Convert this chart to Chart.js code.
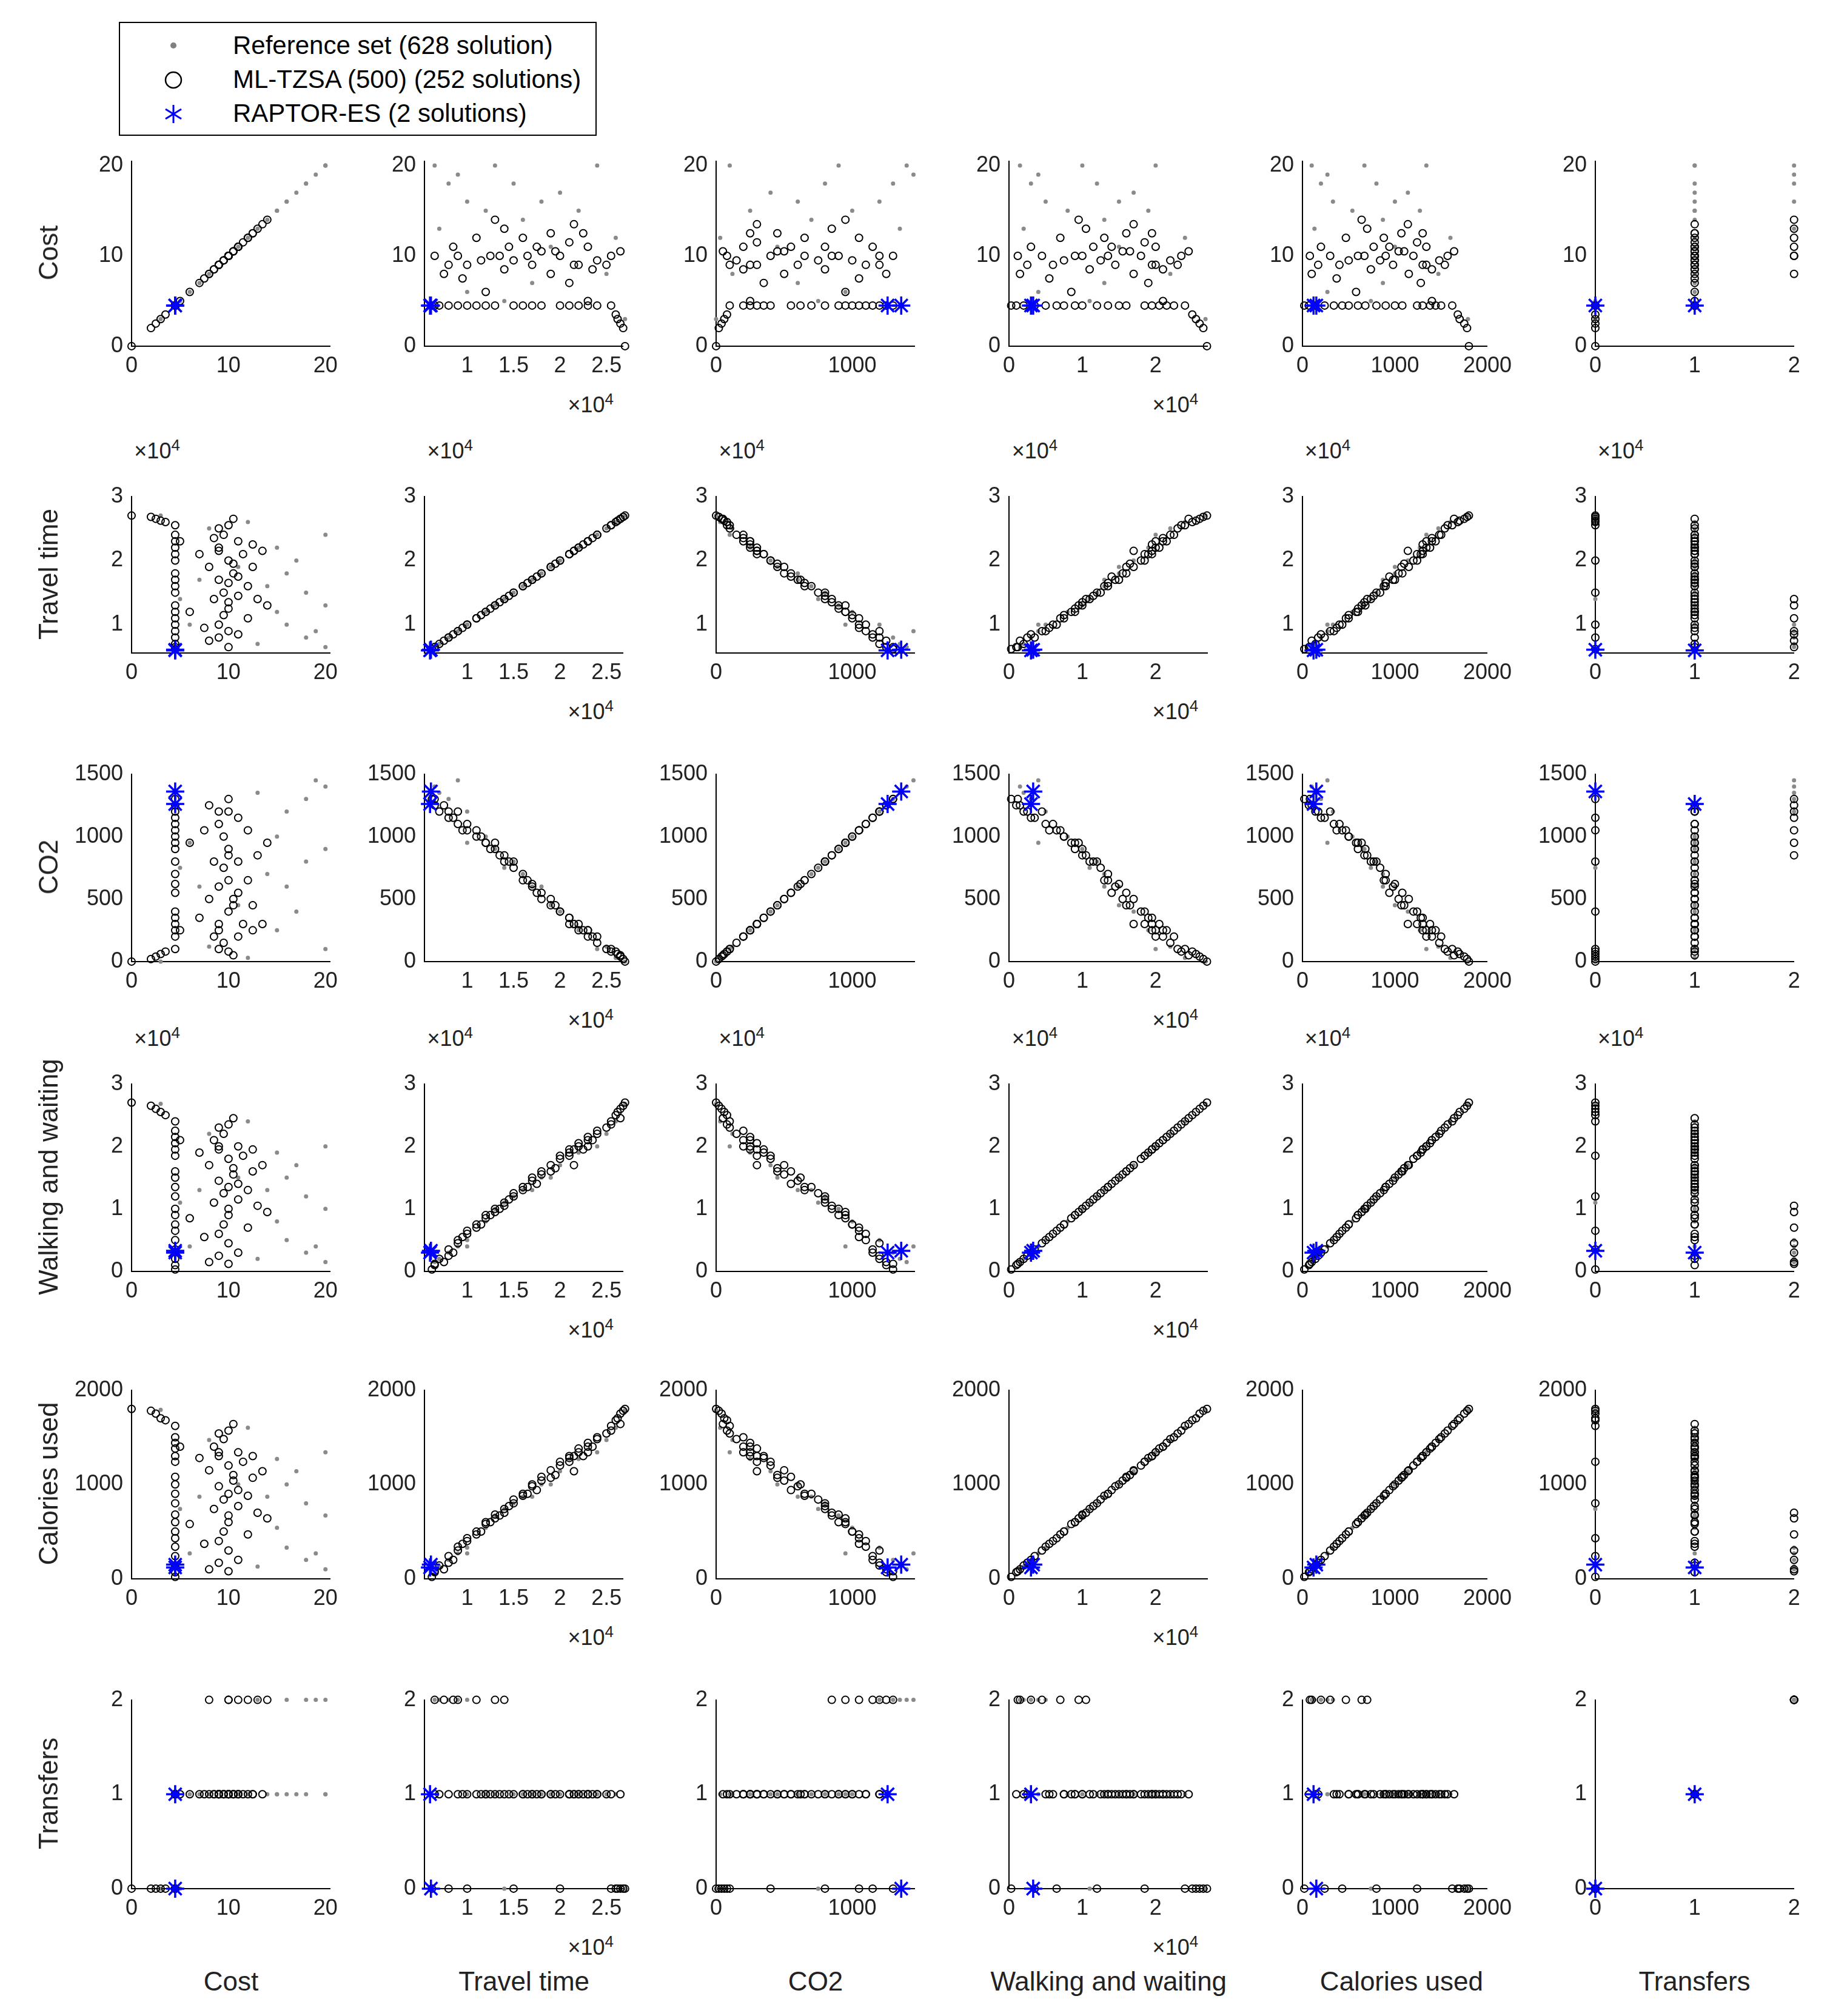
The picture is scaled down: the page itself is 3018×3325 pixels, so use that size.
<!DOCTYPE html>
<html lang="en">
<head>
<meta charset="UTF-8" />
<title>Scatter matrix</title>
<script src="https://cdn.jsdelivr.net/npm/chart.js"></script>
<style>
  body { margin:0; width:3018px; height:3325px; background:#fff; position:relative; font-family:Arial,'Liberation Sans',sans-serif; overflow:hidden; }
  canvas { position:absolute; }
  .lbl { position:absolute; font-size:44px; color:#222; white-space:nowrap; }
  .exp { position:absolute; font-size:36px; color:#222; white-space:nowrap; }
  .exp sup { font-size:26px; }
  #legend { position:absolute; left:196px; top:36px; width:784px; height:184px; border:2px solid #000; background:#fff; font-size:42px; }
  #legend div { position:absolute; left:0; height:54px; line-height:54px; }
  #legend span.t { position:absolute; left:186px; }
</style>
</head>
<body>
<div id="legend">
  <div style="top:10px;width:784px"><svg style="position:absolute;left:78px;top:17px" width="20" height="20"><circle cx="10" cy="10" r="5" fill="#808080"/></svg><span class="t">Reference set (628 solution)</span></div>
  <div style="top:66px;width:784px"><svg style="position:absolute;left:70px;top:10px" width="36" height="36"><circle cx="18" cy="18" r="13" fill="none" stroke="#000" stroke-width="2.5"/></svg><span class="t">ML-TZSA (500) (252 solutions)</span></div>
  <div style="top:122px;width:784px"><svg style="position:absolute;left:70px;top:10px" width="36" height="36"><g stroke="#0000ff" stroke-width="3"><line x1="18" y1="3" x2="18" y2="33"/><line x1="5" y1="10" x2="31" y2="26"/><line x1="5" y1="26" x2="31" y2="10"/></g></svg><span class="t">RAPTOR-ES (2 solutions)</span></div>
</div>
<script>
// Reference set (grey dots)
const refCost = [20,18,16,15,14,17,20,12,19,13,16,11,6,5,7,18,20,15,8,3];
const refTravel = [6500,8000,10000,12000,16000,20000,24000,26000,9000,7000,18000,19000,10000,14000,17000,15000,13000,22000,25000,27000];
const refCO2 = [1400,1300,1200,1000,700,400,100,30,1450,1350,600,450,950,750,600,800,900,250,120,0];
const refWalk = [1500,3000,5000,8000,13000,17000,20000,24000,4000,2000,15000,15000,4000,11000,13000,12000,10000,19000,22000,26800];
const refCal = [100,200,330,540,870,1140,1340,1600,270,130,1000,1000,270,740,870,800,670,1270,1470,1790];
const refTransfers = [2,2,2,1,1,1,1,1,2,2,1,1,1,0,1,1,1,1,1,0];

// ML-TZSA (500)
const mlCost = [0,2,2.5,3,3.5,4.5,4.5,4.5,4.5,4.5,4.5,4.5,4.5,4.5,4.5,4.5,4.5,4.5,4.5,5,6,7,7.5,8,8,8.5,9,9,9,9.5,9.5,10,10,10,10.5,11,11,11.5,12,12,12.5,13,13.5,14,9,10,10.5,
  9,9.5,10,10,10.5,9,8.5,10,11,11,12.5,4.5,4.5,4.5,4.5,4.5];
const mlTravel = [27000,26800,26500,26200,26000,25500,24000,22000,20000,18000,16000,15000,13000,11000,9000,8000,7000,6500,6200,23000,12000,21000,9500,19000,7500,14000,22000,17000,10000,24000,15000,20000,12500,6500,18000,23000,8500,21000,16000,11000,22500,14000,21500,13000,25000,9000,26500,
  8000,11500,13500,16500,19500,21500,23500,25500,14500,17500,19000,17000,21000,12000,23000,10000];
const mlCO2 = [0,20,40,60,80,100,200,300,400,550,700,800,900,1000,1100,1150,1200,1250,1300,250,950,350,1050,500,1250,800,250,600,1100,150,750,400,900,1300,500,200,1150,300,650,1050,250,850,300,950,100,1200,50,
  1200,1000,850,650,450,300,200,80,800,550,450,620,350,950,250,1050];
const mlWalk = [27000,26500,26000,25500,25000,24000,22500,20500,18500,16000,13500,12000,10000,7500,5000,3500,2000,1000,300,21000,8500,19000,5500,17000,1500,11000,20000,14500,6000,22000,12500,18000,9000,1200,15500,20000,3000,18500,13000,7000,19500,10500,17000,9500,23000,4500,24500,
  2500,7500,10000,13500,16500,19500,21000,23500,11500,14000,16000,15000,19500,9000,21500,6500];
const mlCal = [1800,1780,1750,1700,1680,1620,1500,1380,1240,1080,900,800,680,500,340,240,140,70,20,1400,580,1280,370,1150,100,740,1340,980,400,1480,840,1200,600,80,1040,1340,200,1240,880,470,1300,700,1140,640,1540,300,1640,
  170,500,670,900,1100,1300,1400,1570,770,940,1070,1000,1300,600,1440,430];
const mlTransfers = [0,0,0,0,0,0,1,1,0,1,1,0,1,1,1,0,1,1,0,1,1,1,1,1,2,1,1,1,1,1,1,1,1,2,1,1,2,1,1,2,1,2,1,2,1,2,1,
  1,1,1,1,1,1,1,1,1,1,1,1,1,1,1,0];

// RAPTOR-ES
const rCost = [4.5,4.5];
const rTravel = [6000,6100];
const rCO2 = [1260,1360];
const rWalk = [3000,3300];
const rCal = [120,150];
const rTransfers = [1,0];

const varNames = ['Cost','Travel time','CO2','Walking and waiting','Calories used','Transfers'];
const refCols = [refCost, refTravel, refCO2, refWalk, refCal, refTransfers];
const mlCols = [mlCost, mlTravel, mlCO2, mlWalk, mlCal, mlTransfers];
const rCols = [rCost, rTravel, rCO2, rWalk, rCal, rTransfers];

const xRange = [[0,20.5],[5400,26800],[0,1460],[0,27100],[0,2000],[0,2]];
const yRange = [[0,20.5],[5600,30000],[0,1500],[0,30000],[0,2000],[0,2]];
const xTicks = [[0,10,20],[10000,15000,20000,25000],[0,1000],[0,10000,20000],[0,1000,2000],[0,1,2]];
const yTicks = [[0,10,20],[10000,20000,30000],[0,500,1000,1500],[0,10000,20000,30000],[0,1000,2000],[0,1,2]];
const sci = [false,true,false,true,false,false];

const SX = 3018/1418, SY = 3325/1568;
const colLeft = [102,329,555,782,1009,1236];
const plotW = 154;
const rowTop = [124,385,601,842,1080,1321];
const rowBot = [269,508,748,989,1228,1469];
const YW = 70, PADR = 10, PADT = 12, XH = 34;

function fmt(v, s) { return s ? String(v/10000) : String(v); }
function pts(xs, ys) { return xs.map((x, k) => ({x: x, y: ys[k]})); }

function addText(cls, html, left, top, extra) {
  const d = document.createElement('div');
  d.className = cls; d.innerHTML = html;
  d.style.left = left + 'px'; d.style.top = top + 'px';
  if (extra) Object.assign(d.style, extra);
  document.body.appendChild(d);
  return d;
}

for (let i = 0; i < 6; i++) {       // row -> y variable
  for (let j = 0; j < 6; j++) {     // column -> x variable
    const pl = colLeft[j]*SX, pt = rowTop[i]*SY;
    const pw = plotW*SX, ph = (rowBot[i]-rowTop[i])*SY;
    const yw = YW*SX, xh = XH*SY, padT = PADT*SY, padR = PADR*SX;
    const c = document.createElement('canvas');
    c.width = Math.round(yw + pw + padR); c.height = Math.round(padT + ph + xh);
    c.style.left = (pl - yw) + 'px'; c.style.top = (pt - padT) + 'px';
    document.body.appendChild(c);
    const xt = xTicks[j], yt = yTicks[i];
    new Chart(c, {
      type: 'scatter',
      data: { datasets: [
        { data: pts(refCols[j], refCols[i]), pointStyle:'circle', pointRadius:3.5, backgroundColor:'#8a8a8a', borderWidth:0, order:3, clip:false },
        { data: pts(mlCols[j], mlCols[i]), pointStyle:'circle', pointRadius:6, backgroundColor:'rgba(0,0,0,0)', borderColor:'#000', borderWidth:2, order:2, clip:false },
        { data: pts(rCols[j], rCols[i]), pointStyle:'star', pointRadius:15, borderColor:'#0000ff', borderWidth:3.5, order:1, clip:false }
      ]},
      options: {
        responsive:false, devicePixelRatio:1, animation:false,
        layout:{ padding:{ top:padT, right:padR, left:0, bottom:0 } },
        plugins:{ legend:{display:false}, tooltip:{enabled:false} },
        scales:{
          x:{ type:'linear', min:xRange[j][0], max:xRange[j][1],
              grid:{display:false}, border:{display:true, color:'#000', width:2},
              afterBuildTicks: s => { s.ticks = xt.map(v => ({value:v})); },
              afterFit: s => { s.height = xh; },
              ticks:{ color:'#222', font:{size:36, family:'Arial, Liberation Sans'}, padding:4, maxRotation:0, autoSkip:false,
                      callback: v => fmt(v, sci[j]) } },
          y:{ type:'linear', min:yRange[i][0], max:yRange[i][1],
              grid:{display:false}, border:{display:true, color:'#000', width:2},
              afterBuildTicks: s => { s.ticks = yt.map(v => ({value:v})); },
              afterFit: s => { s.width = yw; },
              ticks:{ color:'#222', font:{size:36, family:'Arial, Liberation Sans'}, padding:6, autoSkip:false,
                      callback: v => fmt(v, sci[i]) } }
        }
      }
    });
    if (sci[j]) addText('exp', '×10<sup>4</sup>', (colLeft[j]+plotW-43)*SX, (rowBot[i]+34)*SY);
    if (sci[i]) addText('exp', '×10<sup>4</sup>', (colLeft[j]+2)*SX, (rowTop[i]-46)*SY);
  }
}

// row labels (rotated) and column labels
for (let i = 0; i < 6; i++) {
  const cy = (rowTop[i]+rowBot[i])/2*SY;
  addText('lbl', varNames[i], 80, cy, { transform:'translate(-50%,-50%) rotate(-90deg)' });
  addText('lbl', varNames[i], (colLeft[i]+plotW/2)*SX, 1541*SY, { transform:'translate(-50%,-50%)' });
}
</script>
</body>
</html>
